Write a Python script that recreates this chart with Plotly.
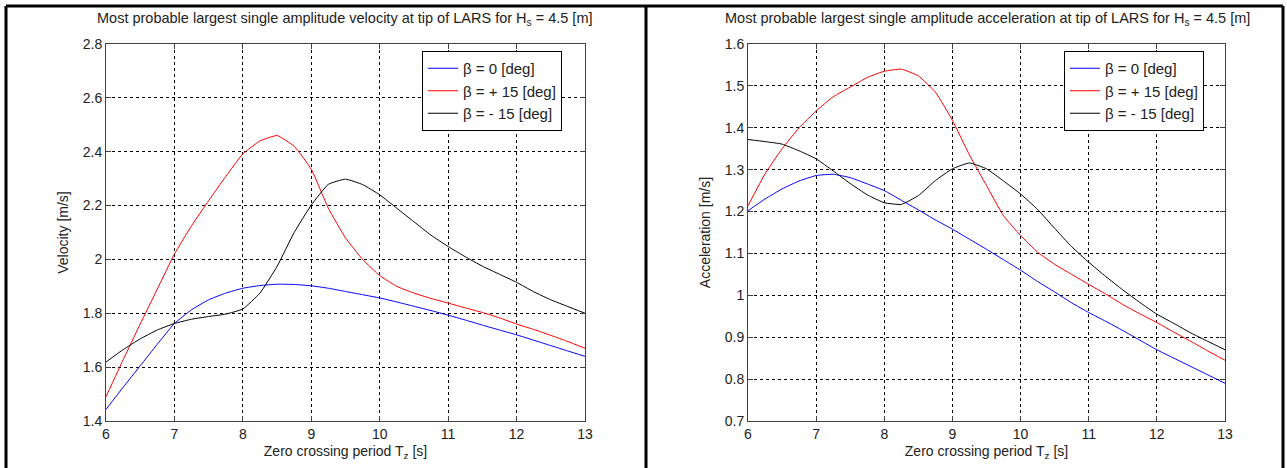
import plotly.graph_objects as go

# ---------------- data ----------------
T = [6.0, 6.25, 6.5, 6.75, 7.0, 7.25, 7.5, 7.75, 8.0, 8.25, 8.5, 8.75, 9.0, 9.25,
     9.5, 9.75, 10.0, 10.25, 10.5, 10.75, 11.0, 11.25, 11.5, 11.75, 12.0, 12.25,
     12.5, 12.75, 13.0]

vel_b0 = [1.443, 1.525, 1.605, 1.685, 1.762, 1.813, 1.85, 1.875, 1.893, 1.903, 1.908,
          1.907, 1.902, 1.893, 1.881, 1.869, 1.857, 1.842, 1.826, 1.81, 1.793, 1.775,
          1.756, 1.738, 1.72, 1.70, 1.68, 1.66, 1.64]
vel_bp15 = [1.49, 1.627, 1.76, 1.89, 2.02, 2.125, 2.218, 2.308, 2.392, 2.44, 2.46, 2.42,
            2.335, 2.19, 2.08, 2.0, 1.94, 1.90, 1.875, 1.855, 1.838, 1.82, 1.803, 1.783,
            1.76, 1.74, 1.718, 1.695, 1.67]
vel_bm15 = [1.619, 1.665, 1.705, 1.738, 1.762, 1.778, 1.788, 1.797, 1.816, 1.875, 1.974,
            2.10, 2.202, 2.279, 2.298, 2.278, 2.24, 2.19, 2.14, 2.09, 2.048, 2.01, 1.975,
            1.945, 1.915, 1.88, 1.85, 1.825, 1.80]

acc_b0 = [1.202, 1.23, 1.254, 1.273, 1.286, 1.289, 1.281, 1.266, 1.25, 1.227, 1.204,
          1.18, 1.158, 1.134, 1.11, 1.085, 1.06, 1.033, 1.008, 0.982, 0.959, 0.938,
          0.916, 0.893, 0.87, 0.85, 0.83, 0.81, 0.79]
acc_bp15 = [1.214, 1.29, 1.35, 1.40, 1.44, 1.474, 1.497, 1.52, 1.535, 1.54, 1.524, 1.485,
            1.418, 1.335, 1.262, 1.19, 1.143, 1.103, 1.074, 1.05, 1.026, 1.003, 0.978,
            0.956, 0.935, 0.912, 0.89, 0.867, 0.845]
acc_bm15 = [1.372, 1.367, 1.361, 1.345, 1.326, 1.297, 1.267, 1.24, 1.221, 1.217, 1.238,
            1.274, 1.302, 1.316, 1.302, 1.273, 1.242, 1.205, 1.16, 1.116, 1.079, 1.045,
            1.013, 0.983, 0.955, 0.933, 0.91, 0.89, 0.87]

series_names = ["β = 0 [deg]", "β = + 15 [deg]", "β = - 15 [deg]"]
series_colors = ["#0000FF", "#FF0000", "#000000"]

x_ticks = [6, 7, 8, 9, 10, 11, 12, 13]
vel_ticks = [1.4, 1.6, 1.8, 2.0, 2.2, 2.4, 2.6, 2.8]
vel_ticktext = ["1.4", "1.6", "1.8", "2", "2.2", "2.4", "2.6", "2.8"]
acc_ticks = [0.7, 0.8, 0.9, 1.0, 1.1, 1.2, 1.3, 1.4, 1.5, 1.6]
acc_ticktext = ["0.7", "0.8", "0.9", "1", "1.1", "1.2", "1.3", "1.4", "1.5", "1.6"]

title_vel = "Most probable largest single amplitude velocity at tip of LARS for H<sub>s</sub> = 4.5 [m]"
title_acc = "Most probable largest single amplitude acceleration at tip of LARS for H<sub>s</sub> = 4.5 [m]"

# ---------------- figure ----------------
W, H = 1287, 468
FONT = "Liberation Sans, Arial, sans-serif"
TXT = "#222222"
AXC = "#404040"

fig = go.Figure()

for vals, name, col in zip([vel_b0, vel_bp15, vel_bm15], series_names, series_colors):
    fig.add_trace(go.Scatter(x=T, y=vals, mode="lines", name=name,
                             line=dict(color=col, width=1, shape="spline", smoothing=0.4),
                             xaxis="x", yaxis="y", legend="legend"))
for vals, name, col in zip([acc_b0, acc_bp15, acc_bm15], series_names, series_colors):
    fig.add_trace(go.Scatter(x=T, y=vals, mode="lines", name=name,
                             line=dict(color=col, width=1, shape="spline", smoothing=0.4),
                             xaxis="x2", yaxis="y2", legend="legend2"))

def px_x(p):
    return p / W

def px_y(p):
    return 1 - p / H

ydom = [px_y(421), px_y(44)]

common_axis = dict(showline=True, linecolor=AXC, linewidth=1, mirror="ticks",
                   ticks="inside", ticklen=5, tickcolor=AXC,
                   showgrid=True, gridcolor="#000000", gridwidth=1, griddash="3px,3px",
                   zeroline=False, tickfont=dict(family=FONT, size=14, color=TXT),
                   automargin=False)

fig.update_layout(
    width=W, height=H, autosize=False,
    margin=dict(l=0, r=0, t=0, b=0),
    paper_bgcolor="white", plot_bgcolor="white",
    font=dict(family=FONT, color=TXT, size=14),
    xaxis=dict(domain=[px_x(106), px_x(585)], range=[6, 13], tickvals=x_ticks,
               anchor="y",
               title=dict(text="Zero crossing period T<sub>z</sub> [s]", standoff=5,
                          font=dict(family=FONT, size=14, color=TXT)),
               **common_axis),
    yaxis=dict(domain=ydom, range=[1.4, 2.8], tickvals=vel_ticks, ticktext=vel_ticktext,
               anchor="x",
               title=dict(text="Velocity [m/s]", standoff=10,
                          font=dict(family=FONT, size=14, color=TXT)),
               **common_axis),
    xaxis2=dict(domain=[px_x(748), px_x(1225)], range=[6, 13], tickvals=x_ticks,
                anchor="y2",
                title=dict(text="Zero crossing period T<sub>z</sub> [s]", standoff=5,
                           font=dict(family=FONT, size=14, color=TXT)),
                **common_axis),
    yaxis2=dict(domain=ydom, range=[0.7, 1.6], tickvals=acc_ticks, ticktext=acc_ticktext,
                anchor="x2",
                title=dict(text="Acceleration [m/s]", standoff=10,
                           font=dict(family=FONT, size=14, color=TXT)),
                **common_axis),
    legend=dict(x=px_x(422), y=px_y(51), xanchor="left", yanchor="top",
                bgcolor="white", bordercolor="#000000", borderwidth=1,
                font=dict(family=FONT, size=15, color=TXT), tracegroupgap=0),
    legend2=dict(x=px_x(1064), y=px_y(51), xanchor="left", yanchor="top",
                 bgcolor="white", bordercolor="#000000", borderwidth=1,
                 font=dict(family=FONT, size=15, color=TXT), tracegroupgap=0),
    showlegend=True,
)

# titles
fig.add_annotation(text=title_vel, xref="paper", yref="paper",
                   x=px_x(345), y=px_y(19), xanchor="center", yanchor="middle",
                   showarrow=False, font=dict(family=FONT, size=14.5, color=TXT))
fig.add_annotation(text=title_acc, xref="paper", yref="paper",
                   x=px_x(987), y=px_y(19), xanchor="center", yanchor="middle",
                   showarrow=False, font=dict(family=FONT, size=14.5, color=TXT))

# outer frame (table cell borders)
frame = dict(type="line", xref="paper", yref="paper",
             line=dict(color="#000000", width=3))
fig.add_shape(x0=px_x(6), x1=px_x(1283), y0=px_y(6), y1=px_y(6), **frame)
fig.add_shape(x0=px_x(6), x1=px_x(6), y0=px_y(6), y1=0, **frame)
fig.add_shape(x0=px_x(646), x1=px_x(646), y0=px_y(6), y1=0, **frame)
fig.add_shape(x0=px_x(1283), x1=px_x(1283), y0=px_y(6), y1=0, **frame)

fig.write_html("out.html")
